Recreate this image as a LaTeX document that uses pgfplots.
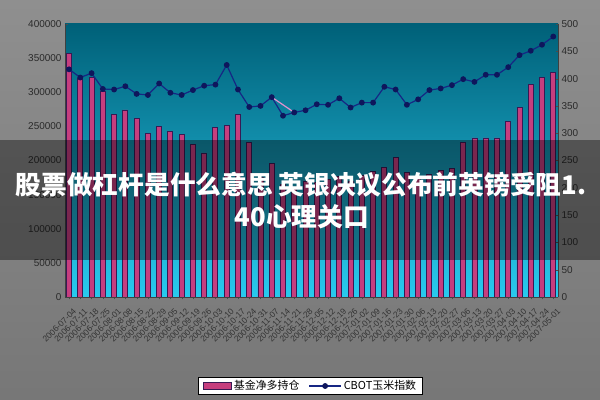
\documentclass[border=0pt]{standalone}
\usepackage{fontspec}
\setmainfont{Liberation Sans}
\newfontfamily\cjk{Noto Sans CJK SC}
\usepackage{pgfplots}
\usepackage{pgfplotstable}
\pgfplotsset{compat=1.18}

\definecolor{plottop}{RGB}{0,96,120}
\definecolor{plotbot}{RGB}{40,202,238}
\definecolor{barfill}{RGB}{198,62,126}
\definecolor{baredge}{RGB}{56,26,84}
\definecolor{linecol}{RGB}{22,38,132}
\definecolor{markcol}{RGB}{14,22,92}
\definecolor{pinkseg}{RGB}{226,146,206}
\definecolor{ticktxt}{RGB}{42,42,42}
\definecolor{bga}{RGB}{72,72,72}
\definecolor{bgb}{RGB}{92,92,92}
\definecolor{bgc}{RGB}{160,160,160}
\definecolor{bgd}{RGB}{182,182,182}

\pgfdeclareverticalshading{outerbg}{600bp}{color(0bp)=(bga); color(120bp)=(bgb); color(260bp)=(bgc); color(400bp)=(bgd)}

% x = week, net = fund net long, idx = CBOT corn index
\pgfplotstableread{
x net idx
1 357000 417
2 320000 402
3 322000 410
4 301000 381
5 268000 380
6 274000 386
7 262000 372
8 239000 370
9 250000 391
10 242000 374
11 238000 370
12 224000 379
13 211000 387
14 248000 389
15 251000 425
16 267000 380
17 227000 348
18 175000 350
19 196000 366
20 165000 332
21 160000 338
22 170000 342
23 168000 353
24 172000 352
25 176000 364
26 170000 347
27 178000 356
28 184000 356
29 190000 385
30 205000 380
31 182000 352
32 176000 362
33 180000 379
34 185000 382
35 188000 388
36 226000 399
37 233000 394
38 233000 407
39 233000 407
40 257000 421
41 277000 443
42 311000 451
43 321000 462
44 329000 477
}\data

\pgfplotsset{
  twin/.style={
    at={(65bp,103bp)}, anchor=south west,
    scale only axis, width=493bp, height=273bp,
    xmin=0.64, xmax=44.42,
    tick label style={font=\fontsize{10}{12}\selectfont, text=ticktxt},
    /pgf/number format/assume math mode=true,
    major tick length=2.5bp,
    tick style={color=black!70},
  },
  barlegend/.style={legend image code/.code={\draw[fill=barfill, draw=baredge, line width=1pt] (0bp,-3.5bp) rectangle (28bp,3.5bp);}},
  linelegend/.style={legend image code/.code={\draw[##1, mark repeat=2, mark phase=2] plot coordinates {(0bp,0bp) (16bp,0bp) (32bp,0bp)};}},
}

\begin{document}
\begin{tikzpicture}
\useasboundingbox (0,0) rectangle (600bp,400bp);
\shade[shading=outerbg] (0,0) rectangle (600bp,400bp);

\begin{axis}[
  twin,
  ymin=0, ymax=400000,
  ytick={0,50000,...,400000},
  scaled y ticks=false,
  yticklabel style={/pgf/number format/fixed, /pgf/number format/1000 sep={}},
  axis x line*=bottom, axis y line*=left,
  axis line style={black!75},
  xtick={1,...,44},
  xticklabels={2006-07-04,2006-07-11,2006-07-18,2006-07-25,2006-08-01,2006-08-08,2006-08-15,2006-08-22,2006-08-29,2006-09-05,2006-09-12,2006-09-19,2006-09-26,2006-10-03,2006-10-10,2006-10-17,2006-10-24,2006-10-31,2006-11-07,2006-11-14,2006-11-21,2006-11-28,2006-12-05,2006-12-12,2006-12-19,2006-12-26,2007-01-02,2007-01-09,2007-01-16,2007-01-23,2007-01-30,2007-02-06,2007-02-13,2007-02-20,2007-02-27,2007-03-06,2007-03-13,2007-03-20,2007-03-27,2007-04-03,2007-04-10,2007-04-17,2007-04-24,2007-05-01},
  x tick label style={rotate=45, anchor=north east, yshift=-5bp, font=\fontsize{8.5}{9}\selectfont, text=black!80},
  axis background/.style={top color=plottop, bottom color=plotbot},
  ybar, bar width=5bp,
]
\addplot[fill=barfill, draw=baredge, line width=0.9pt] table[x=x, y=net] {\data};
\end{axis}

\begin{axis}[
  twin,
  ymin=0, ymax=500,
  ytick={0,50,...,500},
  axis y line*=right, axis x line=none,
  axis line style={black!75},
  legend columns=2,
  legend style={at={(0.498,-0.326)}, anchor=center, draw=black, line width=0.8pt,
    fill=white, font=\cjk\fontsize{11}{13}\selectfont,
    inner xsep=4pt, inner ysep=1.5pt, /tikz/every even column/.append style={column sep=7pt}},
]
\addlegendimage{barlegend}
\addlegendentry{基金净多持仓}
\addplot[pinkseg, line width=1.2pt, forget plot] coordinates {(19,366) (21,338)};
\addplot[linecol, line width=1.2pt, mark=*, mark size=2.3pt, mark options={fill=markcol, draw=markcol}, linelegend]
  table[x=x, y=idx] {\data};
\addlegendentry{CBOT玉米指数}
\end{axis}

\fill[black, opacity=0.38] (0,140bp) rectangle (600bp,260bp);
\node[text=white, font=\cjk\bfseries\fontsize{25.8}{26}\selectfont] at (301bp,215bp) {股票做杠杆是什么意思 英银决议公布前英镑受阻1.};
\node[text=white, font=\cjk\bfseries\fontsize{25.8}{26}\selectfont] at (302bp,183bp) {40心理关口};
\end{tikzpicture}
\end{document}
